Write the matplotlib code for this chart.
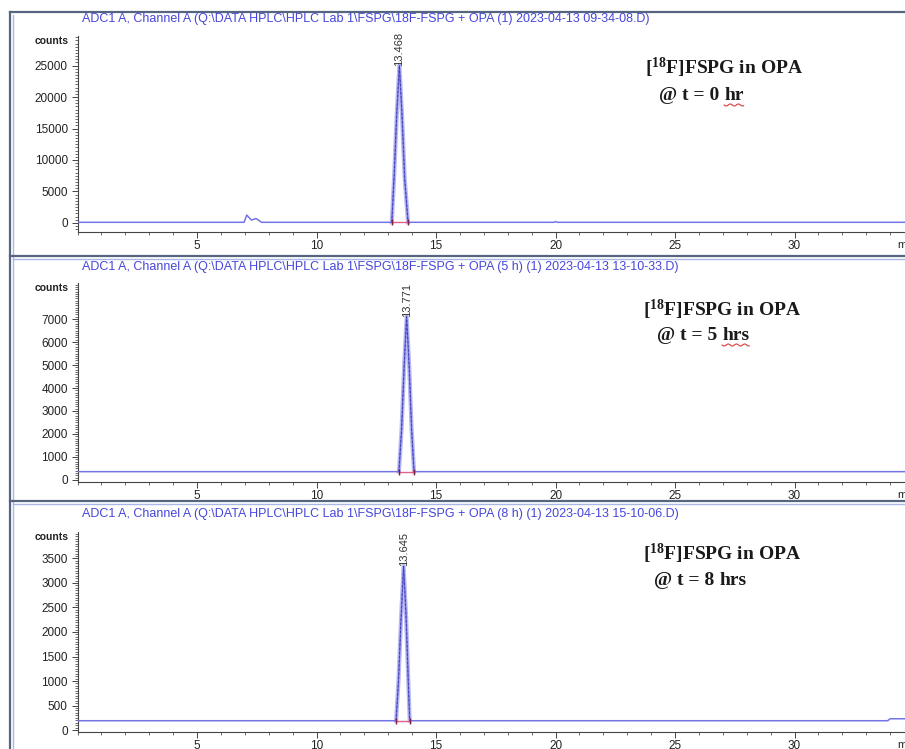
import numpy as np
import matplotlib.pyplot as plt
from matplotlib.ticker import MultipleLocator, AutoMinorLocator

W, H = 905, 749

# chromatogram traces (retention time in min, detector counts)
time_0h = [0.0, 6.97, 7.08, 7.28, 7.47, 7.7, 13.15, 13.25, 13.36, 13.468, 13.58, 13.69, 13.83, 19.93, 20.0, 20.07, 34.7]
counts_0h = [100, 100, 1250, 450, 700, 100, 100, 7500, 17500, 25000, 17000, 7000, 100, 100, 220, 100, 100]

time_5h = [0.0, 13.45, 13.56, 13.67, 13.771, 13.88, 13.98, 14.08, 34.7]
counts_5h = [360, 360, 2200, 5000, 7100, 4900, 2200, 360, 360]

time_8h = [0.0, 13.33, 13.43, 13.54, 13.645, 13.75, 13.84, 13.9, 33.9, 34.0, 34.7]
counts_8h = [190, 190, 1000, 2300, 3340, 2300, 1000, 190, 190, 230, 230]

rt_labels = ["13.468", "13.771", "13.645"]
rt_values = [13.468, 13.771, 13.645]
apex_counts = [25000, 7100, 3340]
peak_start = [13.15, 13.45, 13.33]
peak_end = [13.83, 14.08, 13.90]
baselines = [100, 360, 190]

titles = [
    "ADC1 A, Channel A (Q:\\DATA HPLC\\HPLC Lab 1\\FSPG\\18F-FSPG + OPA (1) 2023-04-13 09-34-08.D)",
    "ADC1 A, Channel A (Q:\\DATA HPLC\\HPLC Lab 1\\FSPG\\18F-FSPG + OPA (5 h) (1) 2023-04-13 13-10-33.D)",
    "ADC1 A, Channel A (Q:\\DATA HPLC\\HPLC Lab 1\\FSPG\\18F-FSPG + OPA (8 h) (1) 2023-04-13 15-10-06.D)",
]
time_points = ["0", "5", "8"]
time_units = ["hr", "hrs", "hrs"]
spellcheck = [True, True, False]

y_limits = [(-1440, 29700), (-90, 8570), (-40, 4040)]
y_steps = [5000, 1000, 500]
y_max_tick = [25000, 7000, 3500]

# panel layout in pixels: axes top, axes bottom, title y, note baselines
ax_top = [36, 283, 532]
ax_bottom = [232, 482, 732]
title_y = [19, 267, 514]
note_x = [(645, 659), (643, 657), (643, 654)]
note_y = [(74, 100), (316, 340), (560, 585)]

plt.rcParams['font.family'] = 'Liberation Sans'
plt.rcParams['mathtext.fontset'] = 'custom'
plt.rcParams['mathtext.rm'] = 'Liberation Serif:bold'
plt.rcParams['mathtext.bf'] = 'Liberation Serif:bold'

trace_col = '#7474e6'
frame_dark = '#56657f'
frame_light = '#a9b6e6'

fig = plt.figure(figsize=(W / 100, H / 100), dpi=100)

# pixel-space canvas for the instrument frame and captions
bg = fig.add_axes([0, 0, 1, 1], zorder=-1)
bg.set_xlim(0, W)
bg.set_ylim(H, 0)
bg.axis('off')
bg.plot([9.5, 9.5], [12, H], color=frame_dark, lw=1.6)
bg.plot([12.5, 12.5], [15, H], color=frame_light, lw=1.0)
bg.plot([9.5, W], [12, 12], color=frame_dark, lw=1.6)
for ysep in [256, 501]:
    bg.plot([9.5, W], [ysep, ysep], color=frame_dark, lw=1.6)
    bg.plot([12.5, W], [ysep + 3, ysep + 3], color=frame_light, lw=1.0)

traces = [(time_0h, counts_0h), (time_5h, counts_5h), (time_8h, counts_8h)]
x_right = (W - 77.5) / 23.9

unit_texts = []
for i in range(3):
    b = 1 - ax_bottom[i] / H
    h = (ax_bottom[i] - ax_top[i]) / H
    ax = fig.add_axes([77.5 / W, b, 1 - 77.5 / W, h])
    t, c = traces[i]
    ax.plot(t, c, color=trace_col, lw=1.1, zorder=3)

    # peak outline as drawn by the integrator
    t_arr = np.array(t)
    c_arr = np.array(c)
    sel = (t_arr >= peak_start[i]) & (t_arr <= peak_end[i])
    ax.plot(t_arr[sel], c_arr[sel], color='#a8a8f2', lw=3.0, alpha=0.8,
            zorder=2)
    ax.plot(t_arr[sel], c_arr[sel], color='#3a3a9a', lw=0.6,
            dashes=(3, 2), zorder=4)
    ax.plot([peak_start[i], peak_end[i]], [baselines[i], baselines[i]],
            color='#e0608a', lw=1.0, zorder=4)
    ax.plot([peak_start[i], peak_end[i]], [baselines[i], baselines[i]],
            ls='none', marker='|', ms=5, mew=1.0, color='#802040', zorder=5)

    ax.text(rt_values[i], apex_counts[i], rt_labels[i], rotation=90,
            ha='center', va='bottom', fontsize=8, color='#333333', zorder=5)

    ax.set_xlim(0, x_right)
    ax.set_ylim(*y_limits[i])
    ax.patch.set_alpha(0)
    for s in ['top', 'right']:
        ax.spines[s].set_visible(False)
    for s in ['left', 'bottom']:
        ax.spines[s].set_color('#444444')
        ax.spines[s].set_linewidth(0.8)

    ax.xaxis.set_minor_locator(MultipleLocator(1))
    ax.set_xticks([v for v in range(5, 35, 5)])
    ax.yaxis.set_minor_locator(AutoMinorLocator(10))
    ax.set_yticks(np.arange(0, y_max_tick[i] + 1, y_steps[i]))
    ax.tick_params(axis='both', which='major', direction='out', length=4,
                   width=0.7, color='#444444', labelsize=8.5,
                   labelcolor='#222222')
    ax.tick_params(axis='both', which='minor', direction='out', length=2.2,
                   width=0.6, color='#555555')
    ax.tick_params(axis='x', which='major', pad=2)
    ax.tick_params(axis='y', which='major', pad=3)

    ax.text(-0.011, 1 - 5 / (ax_bottom[i] - ax_top[i]), 'counts',
            transform=ax.transAxes, ha='right', va='center', fontsize=7.5,
            color='#222222', fontweight='bold')

    bg.text(82, title_y[i], titles[i], ha='left', va='center', fontsize=9.0,
            color='#4646dc')
    bg.text(897, ax_bottom[i] + 13, 'min', ha='left', va='center',
            fontsize=8, color='#222222')

    nx1, nx2 = note_x[i]
    ny1, ny2 = note_y[i]
    bg.text(nx1, ny1, r'[$\mathregular{^{18}}$F]FSPG in OPA', ha='left',
            va='baseline', fontsize=14, family='Liberation Serif',
            fontweight='bold', color='#1a1a1a')
    pre = bg.text(nx2, ny2, '@ t = %s ' % time_points[i], ha='left',
                  va='baseline', fontsize=14, family='Liberation Serif',
                  fontweight='bold', color='#1a1a1a')
    unit_texts.append((pre, i))

# place the unit words after the prefix and add the spell-check squiggle
fig.canvas.draw()
rend = fig.canvas.get_renderer()
inv = bg.transData.inverted()
for pre, i in unit_texts:
    ext = pre.get_window_extent(rend)
    x_end = inv.transform((ext.x1, ext.y0))[0]
    ny2 = note_y[i][1]
    u = bg.text(x_end, ny2, time_units[i], ha='left', va='baseline',
                fontsize=14, family='Liberation Serif', fontweight='bold',
                color='#1a1a1a')
    if spellcheck[i]:
        fig.canvas.draw()
        uext = u.get_window_extent(rend)
        ux0 = inv.transform((uext.x0, uext.y0))[0]
        ux1 = inv.transform((uext.x1, uext.y0))[0]
        xs = np.linspace(ux0, ux1, 60)
        ys = ny2 + 5 + 1.0 * np.sin((xs - ux0) / 1.3)
        bg.plot(xs, ys, color='#d83a3a', lw=0.8)

fig.savefig('out.png', dpi=100)
